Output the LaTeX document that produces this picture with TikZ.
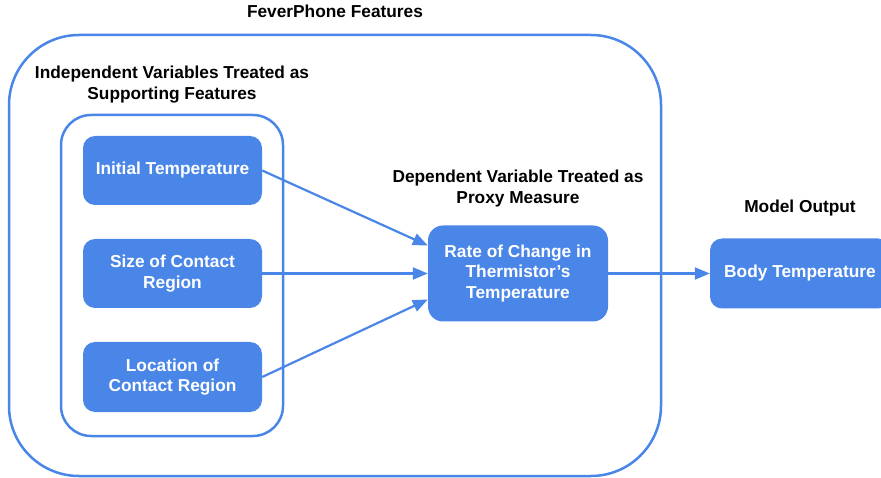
\documentclass[tikz,border=0pt]{standalone}
\usepackage{fontspec}
\setmainfont{Liberation Sans}
\usetikzlibrary{arrows.meta}
\definecolor{gblue}{RGB}{74,134,232}
\begin{document}
\begin{tikzpicture}[x=1pt,y=-1pt,
  every node/.style={font=\bfseries\fontsize{17.3}{20.5}\selectfont},
  box/.style={fill=gblue, text=white, rounded corners=12pt, minimum width=179pt, minimum height=69pt, inner sep=0pt, align=center},
  frame/.style={draw=gblue, line width=2.5pt, inner sep=0pt},
  conn/.style={draw=gblue, line width=2.2pt, -{Triangle[length=15pt,width=12pt]}},
  heading/.style={align=center, inner sep=0pt, text=black}]
\useasboundingbox (0,0) rectangle (881,478);
% frames
\node[frame, rounded corners=70pt, minimum width=652pt, minimum height=441pt] (outer) at (335,255.5) {};
\node[frame, rounded corners=30pt, minimum width=222pt, minimum height=321pt] (inner) at (172,275.5) {};
% headings
\node[heading, anchor=base] (t1) at (335,18) {FeverPhone Features};
\node[heading, anchor=north] (t2) at (172,66) {Independent Variables Treated as\\Supporting Features};
\node[heading, anchor=north] (t3) at (518,170) {Dependent Variable Treated as\\Proxy Measure};
\node[heading, anchor=base] (t4) at (800,213) {Model Output};
% boxes
\node[box] (it) at (172.5,170.5) {Initial Temperature};
\node[box] (sz) at (172.5,273.5) {Size of Contact\\Region};
\node[box, minimum height=70pt] (loc) at (172.5,377) {Location of\\Contact Region};
\node[box, rounded corners=15pt, minimum width=180pt, minimum height=96pt] (rate) at (518,273.5) {Rate of Change in\\Thermistor’s\\Temperature};
\node[box, minimum width=180pt, minimum height=70pt] (body) at (800,273.5) {Body Temperature};
% connectors
\draw[conn] (it.east) -- ([yshift=28pt]rate.west);
\draw[conn] (sz.east) -- (rate.west);
\draw[conn] (loc.east) -- ([yshift=-26pt]rate.west);
\draw[conn] (rate.east) -- (body.west);
\end{tikzpicture}
\end{document}
